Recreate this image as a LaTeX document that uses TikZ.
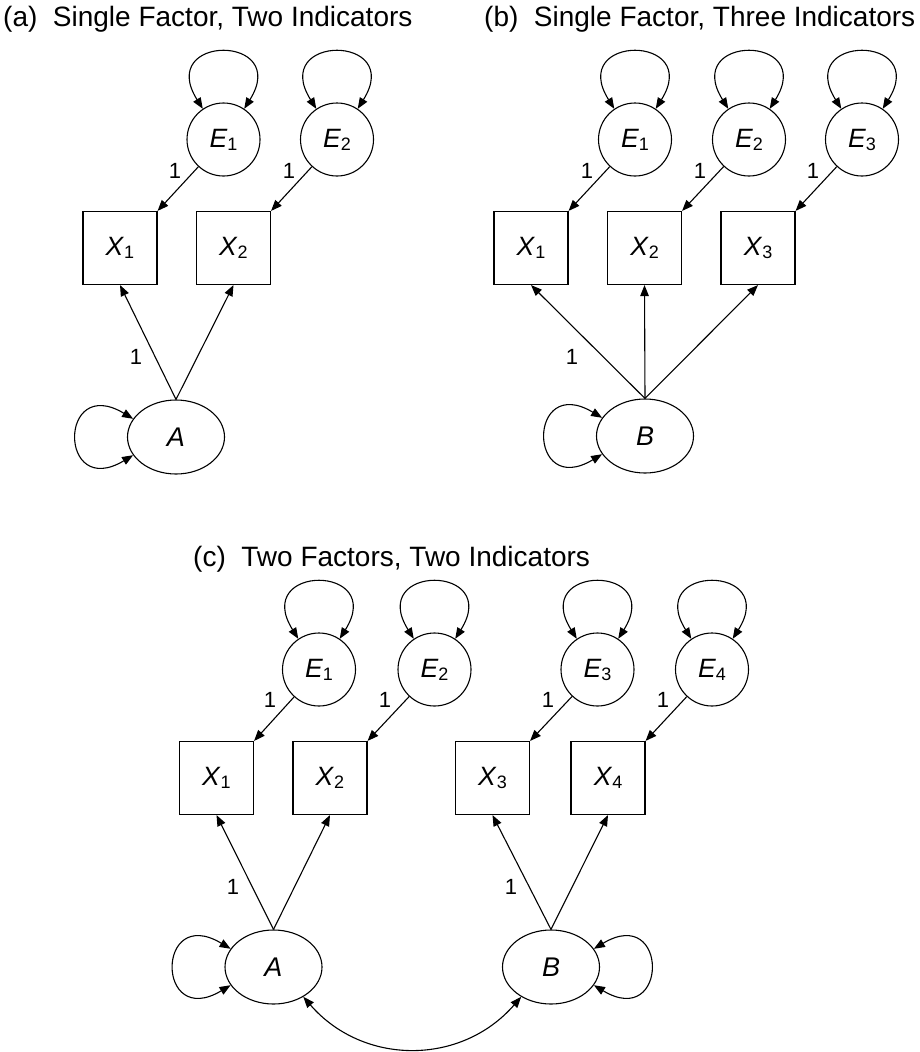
\documentclass[tikz,border=0pt]{standalone}
\usepackage{fontspec}
\setmainfont{Liberation Sans}
\usetikzlibrary{arrows.meta,shapes.geometric}
% italic variable name with an upright, slightly lowered index
\newcommand\varname[2]{\textit{#1}\raisebox{-3pt}{\fontsize{18}{18}\selectfont #2}}
\tikzset{
  errvar/.style={circle, draw, line width=1.1pt, minimum size=73pt, inner sep=0pt,
    font=\fontsize{26.5}{26.5}\selectfont},
  obsvar/.style={rectangle, draw, line width=1.1pt, minimum width=74pt, minimum height=73pt,
    inner sep=0pt, font=\fontsize{26.5}{26.5}\selectfont},
  factor/.style={ellipse, draw, line width=1.1pt, minimum width=97pt, minimum height=74pt,
    inner sep=0pt, font=\itshape\fontsize{27}{27}\selectfont},
  loading/.style={font=\fontsize{22}{22}\selectfont, inner sep=0pt},
  paneltitle/.style={anchor=base west, inner sep=0pt, font=\fontsize{28}{28}\selectfont},
  oneway/.style={-{Triangle[length=11pt,width=8.5pt]}, line width=1.1pt},
  twoway/.style={{Triangle[length=11pt,width=8.5pt]}-{Triangle[length=11pt,width=8.5pt]}, line width=1.1pt},
}
\begin{document}
\begin{tikzpicture}[x=1pt, y=1pt]
\useasboundingbox (0,0) rectangle (919,-1052);

% ---------- (a) single factor, two indicators ----------
\node[paneltitle] (ta) at (3,-27) {(a)\ \ Single Factor, Two Indicators};
\node[errvar] (ea1) at (223.5,-139.5) {\varname{E}{1}};
\node[errvar] (ea2) at (337,-139.5) {\varname{E}{2}};
\node[obsvar] (xa1) at (120,-248) {\varname{X}{1}};
\node[obsvar] (xa2) at (233.5,-248) {\varname{X}{2}};
\node[factor] (fa) at (176,-437) {A};
\node[loading] (la1) at (175,-171) {1};
\node[loading] (la2) at (289,-171) {1};
\node[loading] (la3) at (136,-357) {1};
\foreach \e in {ea1,ea2}
  \draw[twoway] (\e.124) .. controls +(-47,75) and +(47,75) .. (\e.56);
\draw[oneway] (ea1) -- (xa1.north east);
\draw[oneway] (ea2) -- (xa2.north east);
\draw[oneway] (fa.north) -- (xa1.south);
\draw[oneway] (fa.north) -- (xa2.south);
\draw[twoway] (fa.157) .. controls +(-75,45) and +(-75,-45) .. (fa.203);

% ---------- (b) single factor, three indicators ----------
\node[paneltitle] (tb) at (484,-27) {(b)\ \ Single Factor, Three Indicators};
\node[errvar] (eb1) at (635,-139.5) {\varname{E}{1}};
\node[errvar] (eb2) at (749,-139.5) {\varname{E}{2}};
\node[errvar] (eb3) at (862,-139.5) {\varname{E}{3}};
\node[obsvar] (xb1) at (531,-248) {\varname{X}{1}};
\node[obsvar] (xb2) at (644.5,-248) {\varname{X}{2}};
\node[obsvar] (xb3) at (758,-248) {\varname{X}{3}};
\node[factor] (fb) at (645,-436) {B};
\node[loading] (lb1) at (587,-171) {1};
\node[loading] (lb2) at (700,-171) {1};
\node[loading] (lb3) at (813,-171) {1};
\node[loading] (lb4) at (572,-357) {1};
\foreach \e in {eb1,eb2,eb3}
  \draw[twoway] (\e.124) .. controls +(-47,75) and +(47,75) .. (\e.56);
\draw[oneway] (eb1) -- (xb1.north east);
\draw[oneway] (eb2) -- (xb2.north east);
\draw[oneway] (eb3) -- (xb3.north east);
\draw[oneway] (fb.north) -- (xb1.south);
\draw[oneway] (fb.north) -- (xb2.south);
\draw[oneway] (fb.north) -- (xb3.south);
\draw[twoway] (fb.157) .. controls +(-75,45) and +(-75,-45) .. (fb.203);

% ---------- (c) two factors, two indicators ----------
\node[paneltitle] (tc) at (193,-566) {(c)\ \ Two Factors, Two Indicators};
\node[errvar] (ec1) at (319,-669.5) {\varname{E}{1}};
\node[errvar] (ec2) at (434.5,-669.5) {\varname{E}{2}};
\node[errvar] (ec3) at (597.5,-669.5) {\varname{E}{3}};
\node[errvar] (ec4) at (712,-669.5) {\varname{E}{4}};
\node[obsvar] (xc1) at (216.5,-778) {\varname{X}{1}};
\node[obsvar] (xc2) at (330,-778) {\varname{X}{2}};
\node[obsvar] (xc3) at (492.5,-778) {\varname{X}{3}};
\node[obsvar] (xc4) at (608,-778) {\varname{X}{4}};
\node[factor] (fca) at (273.5,-967) {A};
\node[factor] (fcb) at (551,-967) {B};
\node[loading] (lc1) at (270,-700) {1};
\node[loading] (lc2) at (385,-700) {1};
\node[loading] (lc3) at (548,-700) {1};
\node[loading] (lc4) at (663,-700) {1};
\node[loading] (lc5) at (233,-887) {1};
\node[loading] (lc6) at (511,-887) {1};
\foreach \e in {ec1,ec2,ec3,ec4}
  \draw[twoway] (\e.124) .. controls +(-47,75) and +(47,75) .. (\e.56);
\draw[oneway] (ec1) -- (xc1.north east);
\draw[oneway] (ec2) -- (xc2.north east);
\draw[oneway] (ec3) -- (xc3.north east);
\draw[oneway] (ec4) -- (xc4.north east);
\draw[oneway] (fca.north) -- (xc1.south);
\draw[oneway] (fca.north) -- (xc2.south);
\draw[oneway] (fcb.north) -- (xc3.south);
\draw[oneway] (fcb.north) -- (xc4.south);
\draw[twoway] (fca.157) .. controls +(-75,45) and +(-75,-45) .. (fca.203);
\draw[twoway] (fcb.23) .. controls +(75,45) and +(75,-45) .. (fcb.-23);
\draw[twoway] (fca.-45) .. controls +(60,-69) and +(-60,-69) .. (fcb.-135);
\end{tikzpicture}
\end{document}
